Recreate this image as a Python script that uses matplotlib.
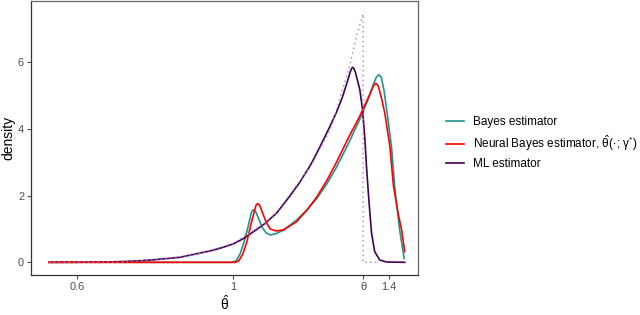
import matplotlib

matplotlib.use("Agg")
import matplotlib.pyplot as plt

plt.rcParams["font.family"] = ["Liberation Sans", "DejaVu Sans"]
plt.rcParams["mathtext.fontset"] = "custom"
plt.rcParams["mathtext.rm"] = "Liberation Sans"
plt.rcParams["mathtext.it"] = "Liberation Sans"
plt.rcParams["mathtext.bf"] = "Liberation Sans:bold"

THETA = 4 / 3

# values
bayes_x = [0.528, 0.998, 1.008, 1.018, 1.028, 1.038, 1.046, 1.049, 1.052, 1.056,
           1.06, 1.065, 1.075, 1.085, 1.096, 1.11, 1.13, 1.163, 1.19, 1.215,
           1.24, 1.265, 1.295, 1.324, 1.345, 1.36, 1.367, 1.374, 1.38, 1.387,
           1.395, 1.406, 1.415, 1.427, 1.4385]
bayes_y = [0.0, 0.0, 0.05, 0.25, 0.6, 1.05, 1.45, 1.55, 1.58, 1.55,
           1.47, 1.32, 1.04, 0.88, 0.82, 0.86, 0.97, 1.27, 1.58, 1.92,
           2.35, 2.85, 3.55, 4.27, 4.85, 5.35, 5.55, 5.63, 5.55, 5.15,
           4.47, 3.47, 2.17, 0.97, 0.12]

neural_x = [0.528, 1.005, 1.015, 1.025, 1.035, 1.045, 1.055, 1.059, 1.063, 1.067,
            1.071, 1.075, 1.085, 1.095, 1.111, 1.13, 1.163, 1.19, 1.215, 1.24,
            1.265, 1.295, 1.324, 1.345, 1.352, 1.36, 1.366, 1.372, 1.38, 1.389,
            1.402, 1.411, 1.423, 1.432, 1.44]
neural_y = [0.0, 0.0, 0.05, 0.25, 0.6, 1.1, 1.55, 1.72, 1.76, 1.73,
            1.63, 1.5, 1.2, 1.0, 0.94, 0.98, 1.22, 1.58, 1.97, 2.45,
            3.0, 3.72, 4.37, 4.9, 5.08, 5.3, 5.37, 5.3, 4.95, 4.47,
            3.47, 2.3, 1.47, 0.97, 0.32]

ml_x = [0.528, 0.60, 0.675, 0.72, 0.76, 0.80, 0.863, 0.90, 0.94, 0.966,
        1.0, 1.026, 1.05, 1.08, 1.111, 1.141, 1.171, 1.2, 1.222, 1.245,
        1.265, 1.28, 1.291, 1.30, 1.303, 1.306, 1.309, 1.313, 1.318, 1.325,
        1.332, 1.338, 1.342, 1.348, 1.355, 1.363, 1.376, 1.393, 1.44]
ml_y = [0.0, 0.003, 0.01, 0.025, 0.045, 0.08, 0.15, 0.24, 0.34, 0.42,
        0.55, 0.71, 0.9, 1.15, 1.47, 1.92, 2.4, 2.95, 3.45, 4.0,
        4.5, 4.95, 5.35, 5.7, 5.8, 5.85, 5.83, 5.72, 5.5, 5.17,
        4.57, 3.67, 2.87, 1.87, 0.87, 0.32, 0.07, 0.01, 0.0]

exact_x = [0.528, 0.7, 0.8, 0.9, 1.0, 1.1, 1.2, 1.25, 1.3, 1.316, THETA, THETA, 1.37]
exact_y = [0.0, 0.008, 0.075, 0.22, 0.56, 1.32, 2.9, 4.0, 5.95, 6.77, 7.45, 0.0, 0.0]

x_ticks = [0.6, 1.0, THETA, 1.4]
x_tick_labels = ["0.6", "1", "θ", "1.4"]
y_ticks = [0, 2, 4, 6]

TEAL = "#21948C"
RED = "#FF0000"
PURPLE = "#440154"
DOTTED = "#A680BE"

fig = plt.figure(figsize=(6.4, 3.15), dpi=100)
ax = fig.add_axes([31 / 640, 40 / 315, 387 / 640, 274 / 315])

l_bayes, = ax.plot(bayes_x, bayes_y, color=TEAL, linewidth=1.2,
                   label="Bayes estimator")
l_ml, = ax.plot(ml_x, ml_y, color=PURPLE, linewidth=1.2, label="ML estimator")
l_neural, = ax.plot(neural_x, neural_y, color=RED, linewidth=1.2,
                    label=r"Neural Bayes estimator, $\hat{\theta}(\cdot\,;\gamma^{*})$")
ax.plot(exact_x, exact_y, color=DOTTED, linewidth=1.0, linestyle=(0, (1, 2.5)))

ax.set_xlim(0.482, 1.474)
ax.set_ylim(-0.38, 7.84)
ax.set_xticks(x_ticks, labels=x_tick_labels)
ax.set_yticks(y_ticks)
ax.tick_params(axis="both", colors="#4D4D4D", labelsize=7.9, length=3,
               width=0.8, pad=2)
for side in ["left", "bottom"]:
    ax.spines[side].set_color("#333333")
    ax.spines[side].set_linewidth(0.9)
for side in ["top", "right"]:
    ax.spines[side].set_color("#666666")
    ax.spines[side].set_linewidth(0.9)

ax.set_xlabel(r"$\hat{\theta}$", fontsize=10, labelpad=2)
ax.set_ylabel("density", fontsize=10, labelpad=2)

fig.legend(
    handles=[l_bayes, l_neural, l_ml],
    loc="center left",
    bbox_to_anchor=(446 / 640, 1 - 143 / 315),
    frameon=False,
    fontsize=8.5,
    handlelength=1.55,
    handletextpad=0.75,
    labelspacing=0.42,
    borderpad=0,
    borderaxespad=0,
)

fig.savefig("out.png", dpi=100)
